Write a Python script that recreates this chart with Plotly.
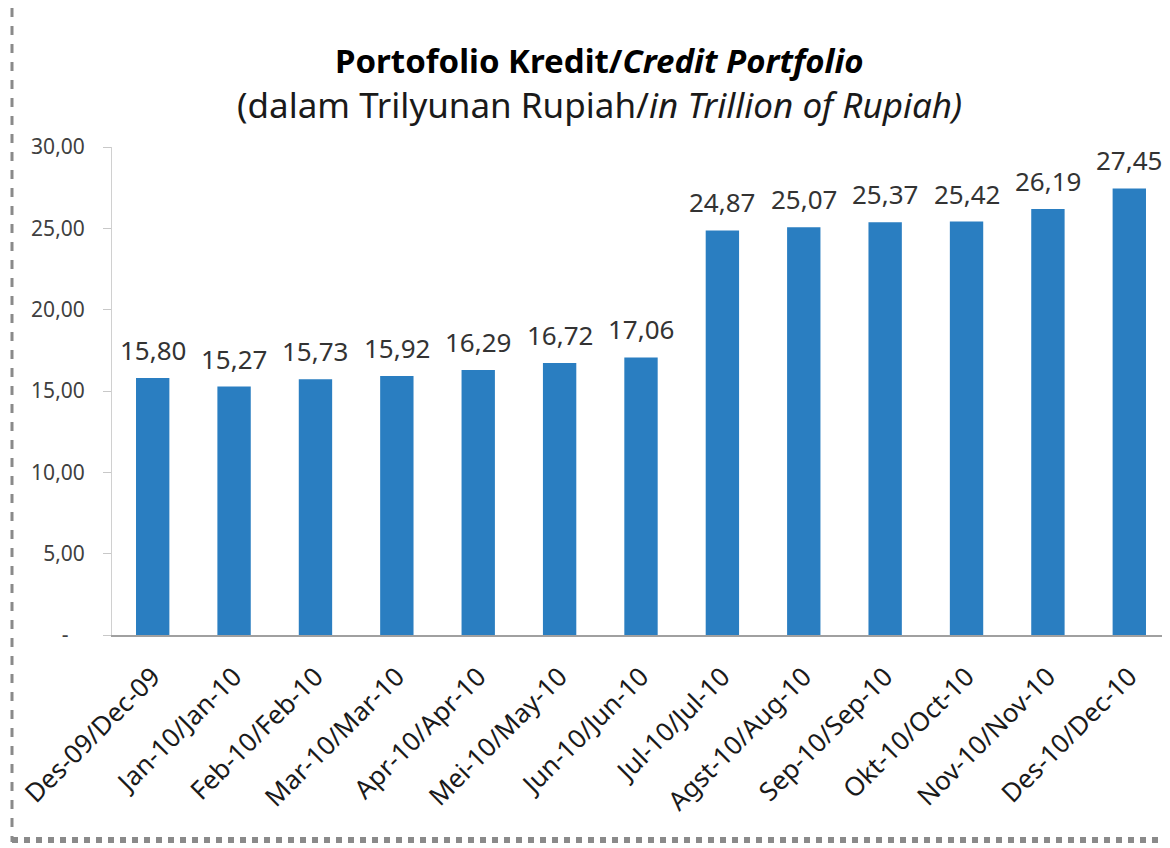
import plotly.graph_objects as go

categories = ["Des-09/Dec-09", "Jan-10/Jan-10", "Feb-10/Feb-10", "Mar-10/Mar-10",
              "Apr-10/Apr-10", "Mei-10/May-10", "Jun-10/Jun-10", "Jul-10/Jul-10",
              "Agst-10/Aug-10", "Sep-10/Sep-10", "Okt-10/Oct-10", "Nov-10/Nov-10",
              "Des-10/Dec-10"]
values = [15.80, 15.27, 15.73, 15.92, 16.29, 16.72, 17.06, 24.87, 25.07, 25.37, 25.42, 26.19, 27.45]
tick_vals = [0, 5, 10, 15, 20, 25, 30]
tick_text = ["-\u00a0\u00a0\u00a0", "5,00", "10,00", "15,00", "20,00", "25,00", "30,00"]

FONT = "Noto Sans"

# figure geometry (page has an 8px body margin)
FW, FH = 1162, 840
ML, MT, MB, MR = 104, 139, 213, 0
W, H = FW - ML - MR, FH - MT - MB
BOTTOM = FH - MB  # y (fig px) of the plot bottom


def px(x):
    return (x - ML) / W


def py(y):
    return (BOTTOM - y) / H


fig = go.Figure()
fig.add_trace(go.Bar(
    x=categories, y=values,
    marker=dict(color="#2a7ec1", line=dict(width=0)),
))

annotations = [
    dict(text="<b>Portofolio Kredit/<i>Credit Portfolio</i></b>", x=px(591), y=py(52),
         xref="paper", yref="paper", showarrow=False, xanchor="center", yanchor="middle",
         font=dict(family=FONT, size=33, color="#000000")),
    dict(text="(dalam Trilyunan Rupiah/<i>in Trillion of Rupiah)</i>", x=px(591), y=py(97),
         xref="paper", yref="paper", showarrow=False, xanchor="center", yanchor="middle",
         font=dict(family=FONT, size=35, color="#1a1a1a")),
]
for c, v in zip(categories, values):
    annotations.append(dict(
        x=c, y=v, xref="x", yref="y", text=f"{v:.2f}".replace(".", ","),
        showarrow=False, yanchor="bottom", yshift=8,
        font=dict(family=FONT, size=26, color="#333333"),
    ))

fig.update_layout(
    width=FW, height=FH,
    paper_bgcolor="white", plot_bgcolor="white",
    margin=dict(l=ML, r=MR, t=MT, b=MB, autoexpand=False),
    bargap=0.59,
    showlegend=False,
    font=dict(family=FONT, color="#404040"),
    annotations=annotations,
)

fig.update_yaxes(
    range=[0, 30], tickvals=tick_vals, ticktext=tick_text,
    showgrid=False, zeroline=False,
    showline=True, linecolor="#d0d0d0", linewidth=1,
    ticks="outside", ticklen=8, tickcolor="#c8c8c8",
    ticklabelstandoff=14,
    tickfont=dict(family=FONT, size=21, color="#404040"),
)
fig.update_xaxes(
    showgrid=False, zeroline=False,
    showline=True, linecolor="#a0a0a0", linewidth=2,
    ticks="", tickangle=-45, ticklabelstandoff=14,
    tickfont=dict(family=FONT, size=26, color="#1a1a1a"),
)

# dashed outer border (left and bottom)
fig.add_shape(type="line", xref="paper", yref="paper",
              x0=px(4), x1=px(4), y0=py(0), y1=py(834),
              line=dict(color="#8a8a8a", width=3, dash="dash"))
fig.add_shape(type="line", xref="paper", yref="paper",
              x0=px(4), x1=px(FW), y0=py(832), y1=py(832),
              line=dict(color="#8a8a8a", width=6, dash="dot"))

fig.write_html("out.html")
